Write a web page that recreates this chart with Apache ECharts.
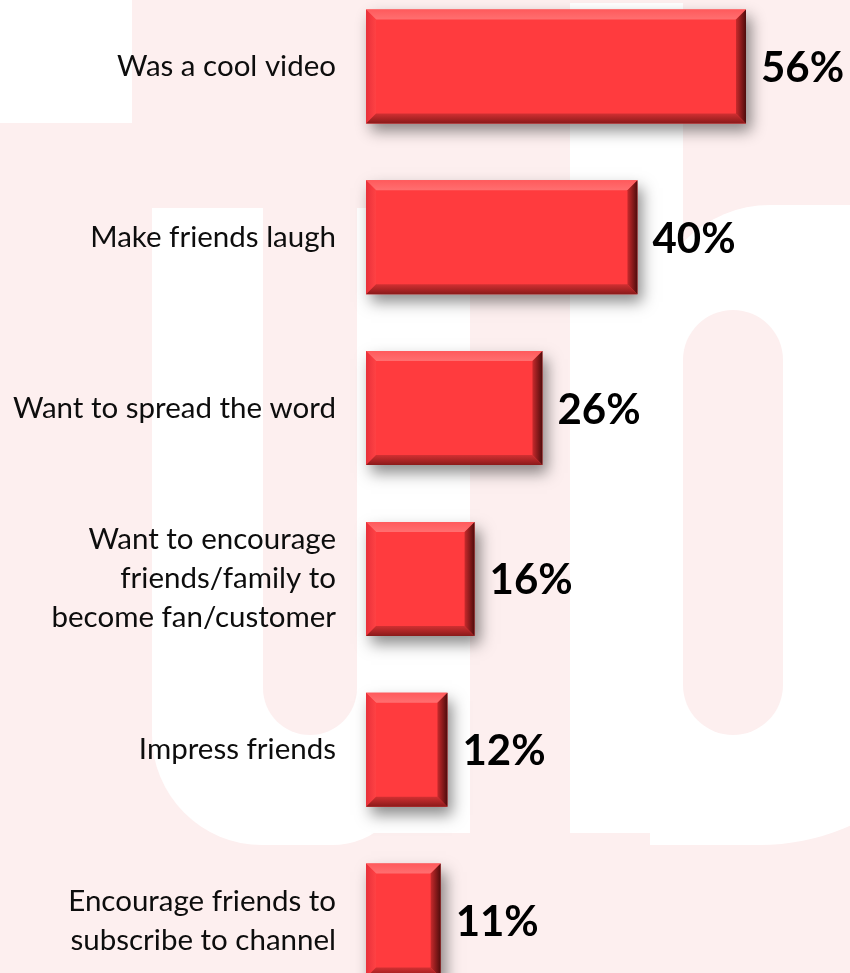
<!DOCTYPE html>
<html>
<head>
<meta charset="utf-8">
<script src="https://cdn.jsdelivr.net/npm/echarts@6/dist/echarts.min.js"></script>
<style>
  html, body { margin: 0; padding: 0; background: #fdefef; }
  #chart { width: 850px; height: 973px; }
</style>
</head>
<body>
<div id="chart"></div>
<script>
// Reasons for sharing a video (percent of respondents)
const categories = [
  'Was a cool video',
  'Make friends laugh',
  'Want to spread the word',
  'Want to encourage\nfriends/family to\nbecome fan/customer',
  'Impress friends',
  'Encourage friends to\nsubscribe to channel'
];
const shares = [56, 40, 26, 16, 12, 11];

const PINK = '#fdefef';
const WHITE = '#ffffff';

function box(x, y, w, h, r, fill) {
  return { type: 'rect', z: -10, silent: true,
           shape: { x: x, y: y, width: w, height: h, r: r || 0 },
           style: { fill: fill } };
}

// Pale "ub" backdrop behind the bars
const backdrop = [
  box(0, 0, 132, 123, 0, WHITE),
  // u
  box(152, 208, 260, 637, [0, 0, 80, 110], WHITE),
  box(358, 208, 112, 625, 0, WHITE),
  box(263, 200, 94, 535, [0, 0, 47, 47], PINK),
  // b
  box(650, 205, 330, 640, [120, 0, 220, 0], WHITE),
  box(570, 3, 113, 830, 0, WHITE),
  box(683, 310, 100, 425, 50, PINK)
];

function lin(x, y, x2, y2, c0, c1) {
  return new echarts.graphic.LinearGradient(x, y, x2, y2, [
    { offset: 0, color: c0 }, { offset: 1, color: c1 }
  ]);
}

// Bevelled bar with drop shadow and bold value label
function renderBar(params, api) {
  const v = api.value(0);
  const cat = api.value(1);
  const s = api.coord([0, cat]);
  const e = api.coord([v, cat]);
  const h = api.size([0, 1])[1] * 0.667;
  const x0 = s[0], x1 = e[0];
  const y0 = s[1] - h / 2, y1 = s[1] + h / 2;
  const b = 10;
  return {
    type: 'group',
    children: [
      { type: 'rect', shape: { x: x0, y: y0, width: x1 - x0, height: h },
        style: { fill: '#ff3b3e', shadowBlur: 14, shadowOffsetX: 5, shadowOffsetY: 8,
                 shadowColor: 'rgba(0,0,0,0.45)' } },
      // top
      { type: 'polygon', shape: { points: [[x0, y0], [x1, y0], [x1 - b, y0 + b], [x0 + b, y0 + b]] },
        style: { fill: lin(0, 0, 0, 1, '#ff5a5c', '#ff6f70') } },
      // left
      { type: 'polygon', shape: { points: [[x0, y0], [x0 + b, y0 + b], [x0 + b, y1 - b], [x0, y1]] },
        style: { fill: lin(0, 0, 1, 0, '#e8303a', '#ff4244') } },
      // bottom
      { type: 'polygon', shape: { points: [[x0, y1], [x0 + b, y1 - b], [x1 - b, y1 - b], [x1, y1]] },
        style: { fill: lin(0, 0, 0, 1, '#d23032', '#8a1a1a') } },
      // right
      { type: 'polygon', shape: { points: [[x1, y0], [x1 - b, y0 + b], [x1 - b, y1 - b], [x1, y1]] },
        style: { fill: lin(0, 0, 1, 0, '#c82a2c', '#4e0c0c') } },
      { type: 'text', x: x1 + 15, y: s[1] + 2,
        style: { text: v + '%', fill: '#000', font: 'bold 42px Lato',
                 align: 'left', verticalAlign: 'middle' } }
    ]
  };
}

const chart = echarts.init(document.getElementById('chart'), null, { renderer: 'canvas' });
chart.setOption({
  backgroundColor: PINK,
  animation: false,
  graphic: backdrop,
  grid: { left: 366, right: 9, top: -19, bottom: -33, outerBoundsMode: 'none' },
  xAxis: { type: 'value', min: 0, max: 70, show: false },
  yAxis: {
    type: 'category',
    data: categories,
    inverse: true,
    axisLine: { show: false },
    axisTick: { show: false },
    splitLine: { show: false },
    axisLabel: {
      margin: 30,
      color: '#0d0d0d',
      fontFamily: 'Lato',
      fontSize: 29.5,
      lineHeight: 39,
      align: 'right'
    }
  },
  series: [{
    type: 'custom',
    renderItem: renderBar,
    clip: false,
    encode: { x: 0, y: 1 },
    data: categories.map(function (c, i) { return [shares[i], i]; })
  }]
});
</script>
</body>
</html>
